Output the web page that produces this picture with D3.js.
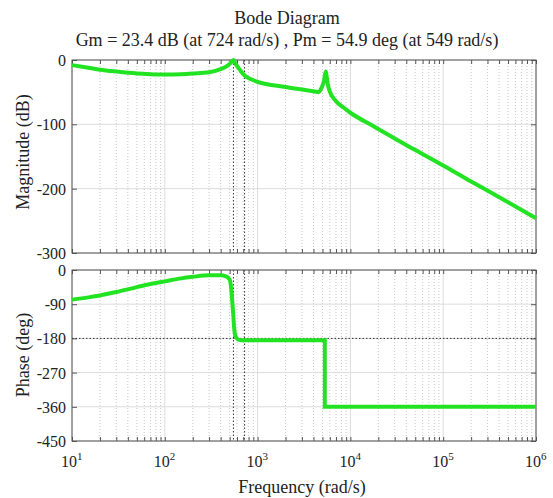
<!DOCTYPE html>
<html>
<head>
<meta charset="utf-8">
<script src="https://cdn.jsdelivr.net/npm/d3@7"></script>
<style>
  body { margin: 0; background: #fff; }
  text { font-family: "Liberation Serif", "Times New Roman", serif; fill: #222; }
</style>
</head>
<body>
<svg id="chart" width="553" height="498"></svg>
<script>
// values
var magFreq = [10, 15, 20, 30, 50, 70, 100, 150, 200, 300, 400, 450, 500, 530, 549, 580, 650, 724, 850, 1000, 2000, 3000, 4150, 4500, 4900, 5200, 5420, 5700, 6000, 7000, 8100, 10000, 18300, 50000, 100000, 200000, 500000, 1000000];
var magDb   = [-8, -12, -15, -18, -21, -22, -22.5, -22, -21, -19, -14, -11, -6, -2, 0, -6, -16, -24, -30, -34, -42, -46, -49, -50, -43, -32, -18, -38, -49, -64, -72, -82, -104, -140, -164, -189, -221, -246];

var phFreq = [10, 15, 20, 30, 50, 70, 100, 150, 200, 300, 400, 450, 500, 520, 540, 549, 560, 580, 620, 700, 1000, 3000, 5300, 5300.1, 5500, 1000000];
var phDeg  = [-78, -72, -67, -58, -45, -37, -30, -22, -18, -14, -14, -16, -25, -50, -100, -125, -155, -175, -183, -185, -185, -185, -185, -360, -360, -360];

var magTicks = [0, -100, -200, -300];
var phTicks = [0, -90, -180, -270, -360, -450];
var decades = [1, 2, 3, 4, 5, 6];
var gmFreq = 724, pmFreq = 549;

var svg = d3.select("#chart");
var left = 72, right = 536;
var green = "#22e322";

var x = d3.scaleLog().domain([10, 1e6]).range([left, right]);
var yMag = d3.scaleLinear().domain([-300, 0]).range([253, 60]);
var yPh = d3.scaleLinear().domain([-450, 0]).range([441, 270]);

var minors = [];
decades.slice(0, -1).forEach(function(e) {
  for (var k = 2; k <= 9; k++) minors.push(k * Math.pow(10, e));
});
var majors = decades.map(function(e) { return Math.pow(10, e); });

drawPanel = function(y, ticks) {
  var g = svg.append("g");
  var top = y.range()[1], bot = y.range()[0];
  // grid
  g.selectAll(".minor").data(minors).enter().append("line")
    .attr("x1", function(d) { return x(d); }).attr("x2", function(d) { return x(d); })
    .attr("y1", top).attr("y2", bot)
    .attr("stroke", "#c8c8c8").attr("stroke-width", 1).attr("stroke-dasharray", "1,2");
  g.selectAll(".major").data(majors).enter().append("line")
    .attr("x1", function(d) { return x(d); }).attr("x2", function(d) { return x(d); })
    .attr("y1", top).attr("y2", bot)
    .attr("stroke", "#dcdcdc").attr("stroke-width", 1);
  g.selectAll(".hgrid").data(ticks).enter().append("line")
    .attr("x1", left).attr("x2", right)
    .attr("y1", function(d) { return y(d); }).attr("y2", function(d) { return y(d); })
    .attr("stroke", "#dcdcdc").attr("stroke-width", 1);
  // margin lines
  g.selectAll(".marg").data([pmFreq, gmFreq]).enter().append("line")
    .attr("x1", function(d) { return x(d); }).attr("x2", function(d) { return x(d); })
    .attr("y1", top).attr("y2", bot)
    .attr("stroke", "#333").attr("stroke-width", 1).attr("stroke-dasharray", "1.5,2");
  // ticks inside, all sides
  var axB = d3.axisBottom(x).tickValues(majors.concat(minors)).tickSizeInner(-4).tickSizeOuter(0).tickFormat("");
  var axT = d3.axisTop(x).tickValues(majors.concat(minors)).tickSizeInner(-4).tickSizeOuter(0).tickFormat("");
  var axL = d3.axisLeft(y).tickValues(ticks).tickSizeInner(-5).tickSizeOuter(0).tickFormat("");
  var axR = d3.axisRight(y).tickValues(ticks).tickSizeInner(-5).tickSizeOuter(0).tickFormat("");
  [[axB, "translate(0," + bot + ")"], [axT, "translate(0," + top + ")"],
   [axL, "translate(" + left + ",0)"], [axR, "translate(" + right + ",0)"]].forEach(function(a) {
    var ag = g.append("g").attr("transform", a[1]).call(a[0]);
    ag.select(".domain").remove();
    ag.selectAll("line").attr("stroke", "#555");
  });
  g.selectAll(".ylab").data(ticks).enter().append("text")
    .attr("x", left - 6).attr("y", function(d) { return y(d) + 6; })
    .attr("text-anchor", "end").attr("font-size", 16)
    .text(function(d) { return d; });
  g.append("rect").attr("x", left).attr("y", top).attr("width", right - left).attr("height", bot - top)
    .attr("fill", "none").attr("stroke", "#555").attr("stroke-width", 1);
  return g;
};

var gMag = drawPanel(yMag, magTicks);
var gPh = drawPanel(yPh, phTicks);

// -180 line in phase panel
gPh.append("line").attr("x1", left).attr("x2", right)
  .attr("y1", yPh(-180)).attr("y2", yPh(-180))
  .attr("stroke", "#333").attr("stroke-width", 1).attr("stroke-dasharray", "1.5,2");

var magData = magFreq.map(function(f, i) { return [f, magDb[i]]; });
var phData = phFreq.map(function(f, i) { return [f, phDeg[i]]; });

gMag.append("path").datum(magData)
  .attr("d", d3.line().x(function(d) { return x(d[0]); }).y(function(d) { return yMag(d[1]); }).curve(d3.curveMonotoneX))
  .attr("fill", "none").attr("stroke", green).attr("stroke-width", 4);
gPh.append("path").datum(phData)
  .attr("d", d3.line().x(function(d) { return x(d[0]); }).y(function(d) { return yPh(d[1]); }).curve(d3.curveMonotoneX))
  .attr("fill", "none").attr("stroke", green).attr("stroke-width", 4);

// x tick labels 10^n
var xl = svg.selectAll(".xlab").data(decades).enter().append("text")
  .attr("x", function(d) { return x(Math.pow(10, d)) - 11; }).attr("y", 467)
  .attr("font-size", 16);
xl.append("tspan").text("10");
xl.append("tspan").attr("dy", -7).attr("font-size", 11).text(function(d) { return d; });

// titles and labels
svg.append("text").attr("x", 287).attr("y", 24).attr("text-anchor", "middle").attr("font-size", 18).text("Bode Diagram");
svg.append("text").attr("x", 287).attr("y", 46).attr("text-anchor", "middle").attr("font-size", 18)
  .text("Gm = 23.4 dB (at 724 rad/s) , Pm = 54.9 deg (at 549 rad/s)");
svg.append("text").attr("x", 302).attr("y", 493).attr("text-anchor", "middle").attr("font-size", 18).text("Frequency (rad/s)");
svg.append("text").attr("transform", "translate(29,152) rotate(-90)")
  .attr("text-anchor", "middle").attr("font-size", 18).text("Magnitude (dB)");
svg.append("text").attr("transform", "translate(29,355) rotate(-90)")
  .attr("text-anchor", "middle").attr("font-size", 18).text("Phase (deg)");
</script>
</body>
</html>
